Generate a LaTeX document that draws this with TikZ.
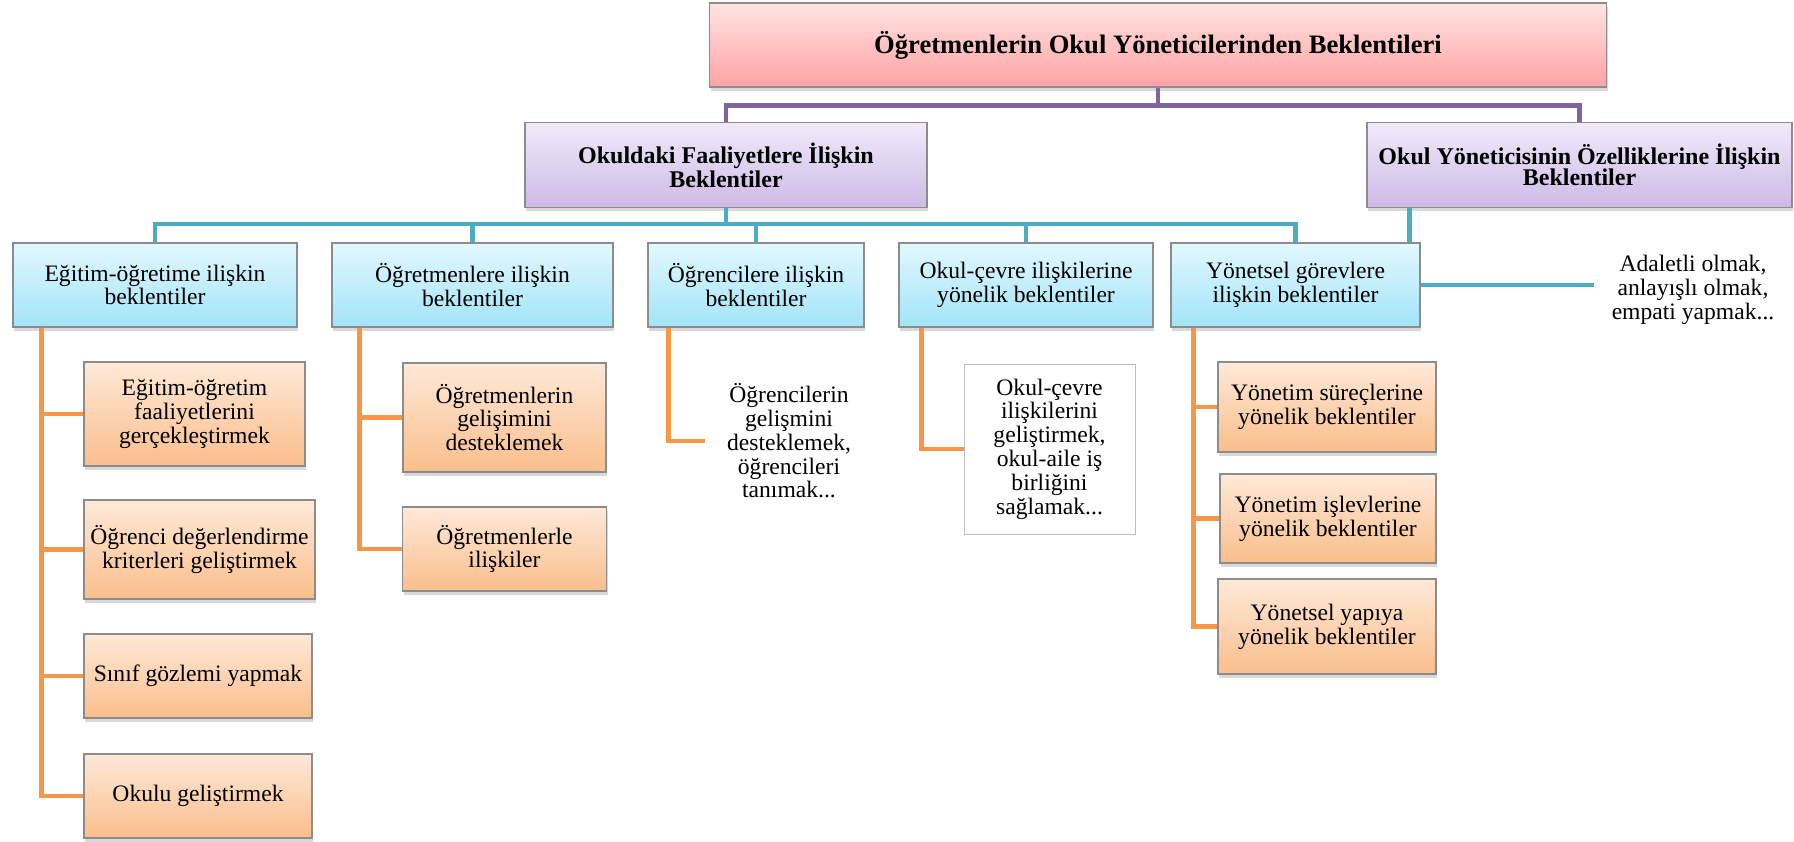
\documentclass[tikz,border=0pt]{standalone}
\usepackage{fontspec}
\setmainfont{Liberation Serif}
\usetikzlibrary{positioning,shadows}

\definecolor{rootTop}{RGB}{255,228,228}
\definecolor{rootBot}{RGB}{255,162,162}
\definecolor{purpTop}{RGB}{241,234,250}
\definecolor{purpBot}{RGB}{205,186,230}
\definecolor{cyanTop}{RGB}{227,248,254}
\definecolor{cyanBot}{RGB}{162,228,248}
\definecolor{orTop}{RGB}{254,233,216}
\definecolor{orBot}{RGB}{250,190,140}
\definecolor{purpLine}{RGB}{128,100,162}
\definecolor{tealLine}{RGB}{75,172,198}
\definecolor{orLine}{RGB}{247,150,70}

\begin{document}
\begin{tikzpicture}[node distance={60pt},
    box/.style={draw=black!45, line width=0.6pt, align=center, inner sep=2pt,
        drop shadow={shadow xshift=0.6pt, shadow yshift=-1.8pt, opacity=0.3}},
    main/.style={box, top color=rootTop, bottom color=rootBot, minimum width=448.5pt, minimum height=42pt,
        font=\bfseries\fontsize{13.3}{14}\selectfont},
    head/.style={box, top color=purpTop, bottom color=purpBot, minimum height=42.5pt,
        font=\bfseries\fontsize{12}{10.8}\selectfont},
    topic/.style={box, top color=cyanTop, bottom color=cyanBot, minimum height=42pt,
        font=\fontsize{11.8}{11.9}\selectfont},
    item/.style={box, top color=orTop, bottom color=orBot, font=\fontsize{11.8}{11.9}\selectfont},
    frame/.style={draw=black!25, line width=0.5pt, fill=white, align=center, inner sep=2pt,
        font=\fontsize{11.8}{11.9}\selectfont},
    note/.style={align=center, inner sep=0pt, font=\fontsize{11.8}{11.9}\selectfont},
    link/.style={line width=2.2pt}]
    \useasboundingbox (0,0) rectangle (897pt,-420.5pt);

    \node[main] (1) at (579pt,-22.5pt) {Öğretmenlerin Okul Yöneticilerinden Beklentileri};

    \node[head, minimum width=201pt] (2) [below of=1, xshift=-216pt] {Okuldaki Faaliyetlere İlişkin\\Beklentiler};
    \node[head, minimum width=212.5pt] (3) [below of=1, xshift=210.75pt] {Okul Yöneticisinin Özelliklerine İlişkin\\Beklentiler};

    \node[topic, minimum width=142pt] (4) [below of=2, xshift=-285.5pt] {Eğitim-öğretime ilişkin\\beklentiler};
    \node[topic, minimum width=140.5pt] (5) [below of=2, xshift=-126.75pt] {Öğretmenlere ilişkin\\beklentiler};
    \node[topic, minimum width=108pt] (6) [below of=2, xshift=15pt] {Öğrencilere ilişkin\\beklentiler};
    \node[topic, minimum width=127pt] (7) [below of=2, xshift=150pt] {Okul-çevre ilişkilerine\\yönelik beklentiler};
    \node[topic, minimum width=124.5pt] (8) [below of=2, xshift=284.75pt] {Yönetsel görevlere\\ilişkin beklentiler};

    \node[note, minimum width=99pt] (9) [right of=8, xshift=138.75pt, yshift=-2.5pt] {Adaletli olmak,\\anlayışlı olmak,\\empati yapmak...};

    \node[item, minimum width=110.5pt, minimum height=52pt] (10) [below of=4, xshift=19.75pt, yshift=-4.5pt] {Eğitim-öğretim\\faaliyetlerini\\gerçekleştirmek};
    \node[item, minimum width=115.5pt, minimum height=49.5pt] (11) [below of=10, xshift=2.5pt, yshift=-7.75pt] {Öğrenci değerlendirme\\kriterleri geliştirmek};
    \node[item, minimum width=114pt, minimum height=42pt] (12) [below of=11, xshift=-0.75pt, yshift=-3.25pt] {Sınıf gözlemi yapmak};
    \node[item, minimum width=114pt, minimum height=42pt] (13) [below of=12] {Okulu geliştirmek};

    \node[item, minimum width=101.5pt, minimum height=54.5pt] (14) [below of=5, xshift=16pt, yshift=-6.25pt] {Öğretmenlerin\\gelişimini\\desteklemek};
    \node[item, minimum width=102pt, minimum height=42pt] (15) [below of=14, yshift=-5.75pt] {Öğretmenlerle\\ilişkiler};

    \node[note, minimum width=84pt] (16) [below of=6, xshift=16.5pt, yshift=-18pt] {Öğrencilerin\\gelişmini\\desteklemek,\\öğrencileri\\tanımak...};

    \node[frame, minimum width=85.5pt, minimum height=85pt] (17) [below of=7, xshift=11.75pt, yshift=-22pt] {Okul-çevre\\ilişkilerini\\geliştirmek,\\okul-aile iş\\birliğini\\sağlamak...};

    \node[item, minimum width=109pt, minimum height=45pt] (18) [below of=8, xshift=15.75pt, yshift=-1pt] {Yönetim süreçlerine\\yönelik beklentiler};
    \node[item, minimum width=108pt, minimum height=44.5pt] (19) [below of=18, xshift=0.5pt, yshift=4.25pt] {Yönetim işlevlerine\\yönelik beklentiler};
    \node[item, minimum width=109pt, minimum height=47.5pt] (20) [below of=19, xshift=-0.5pt, yshift=6pt] {Yönetsel yapıya\\yönelik beklentiler};

    \coordinate (21) at ([xshift=21.5pt]3.south west);

    \draw[link, purpLine] (1.south) -- ++(0,-9pt) -| (2.north);
    \draw[link, purpLine] (1.south) -- ++(0,-9pt) -| (3.north);
    \draw[link, tealLine] (2.south) -- ++(0,-8pt) -| (4.north);
    \draw[link, tealLine] (2.south) -- ++(0,-8pt) -| (5.north);
    \draw[link, tealLine] (2.south) -- ++(0,-8pt) -| (6.north);
    \draw[link, tealLine] (2.south) -- ++(0,-8pt) -| (7.north);
    \draw[link, tealLine] (2.south) -- ++(0,-8pt) -| (8.north);
    \draw[link, tealLine] (21) -- (21 |- 8.north);
    \draw[link, tealLine] (8.east) -- (8.east -| 9.west);
    \draw[link, orLine] ([xshift=14.5pt]4.south west) |- (10.west);
    \draw[link, orLine] ([xshift=14.5pt]4.south west) |- (11.west);
    \draw[link, orLine] ([xshift=14.5pt]4.south west) |- (12.west);
    \draw[link, orLine] ([xshift=14.5pt]4.south west) |- (13.west);
    \draw[link, orLine] ([xshift=14pt]5.south west) |- (14.west);
    \draw[link, orLine] ([xshift=14pt]5.south west) |- (15.west);
    \draw[link, orLine] ([xshift=10.5pt]6.south west) |- (16.west);
    \draw[link, orLine] ([xshift=11.5pt]7.south west) |- (17.west);
    \draw[link, orLine] ([xshift=11.5pt]8.south west) |- (18.west);
    \draw[link, orLine] ([xshift=11.5pt]8.south west) |- (19.west);
    \draw[link, orLine] ([xshift=11.5pt]8.south west) |- (20.west);
\end{tikzpicture}
\end{document}
